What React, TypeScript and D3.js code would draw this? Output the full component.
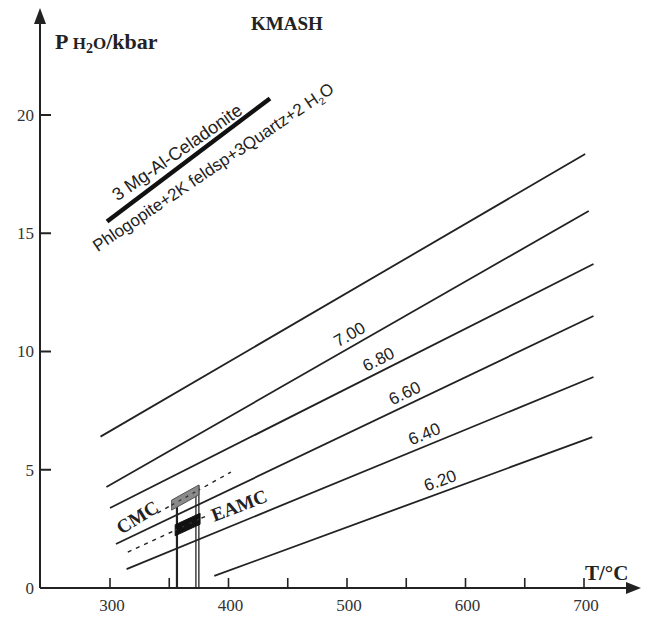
import React from 'react';
import * as d3 from 'd3';

// Si (p.f.u.) isopleths of phengite in KMASH: start/end points in (T °C, P kbar)
// (the uppermost isopleth carries no label)
const isoplethSi = ['', '7.00', '6.80', '6.60', '6.40', '6.20'];
const isoStartT = [292, 297, 300, 305, 314, 388];
const isoStartP = [6.4, 4.27, 3.38, 1.86, 0.8, 0.51];
const isoEndT = [701, 704, 708, 708, 708, 707];
const isoEndP = [18.35, 15.94, 13.7, 11.5, 8.92, 6.38];
// label anchor temperature along each isopleth
const isoLabelT = [0, 507, 531, 553, 569, 582];

// Celadonite breakdown reaction
const reactionT = [297.5, 435];
const reactionP = [15.5, 20.7];
const reactantLabelT = 356.5, reactantLabelP = 18.43;
const productLabelT = 387, productLabelP = 17.8;

// Sample estimates (CMC, EAMC)
const cmcLineT = [340, 402];
const cmcLineP = [3.17, 4.9];
const cmcBarT = [352, 375];
const eamcLineT = [315, 381];
const eamcLineP = [1.52, 3.04];
const eamcBarT = [355, 376];
const markerT = [356.5, 372.5, 375];
const markerTopP = [3.47, 4.27, 4.34];

// Axis ticks
const xTicks = [300, 350, 400, 450, 500, 550, 600, 650, 700];
const xTickLabels = [300, 400, 500, 600, 700];
const yTicks = [5, 10, 15, 20];
const yTickLabels = [0, 5, 10, 15, 20];

const SERIF = "'Liberation Serif', 'Times New Roman', serif";
const SANS = "'Liberation Sans', Arial, sans-serif";
const INK = '#222';

export default function App() {
  const W = 650, H = 617;
  const x = d3.scaleLinear().domain([300, 700]).range([110, 584]);
  const y = d3.scaleLinear().domain([0, 20]).range([588, 115]);
  const line = d3.line<[number, number]>().x(d => x(d[0])).y(d => y(d[1]));

  const x0 = 40, y0 = 588;

  const lerpP = (t: number, T: number[], P: number[]) =>
    P[0] + ((t - T[0]) * (P[1] - P[0])) / (T[1] - T[0]);
  const angleOf = (T: number[], P: number[]) =>
    (Math.atan2(y(P[1]) - y(P[0]), x(T[1]) - x(T[0])) * 180) / Math.PI;
  const seg = (T: number[], lt: number[], lp: number[]) =>
    line([[T[0], lerpP(T[0], lt, lp)], [T[1], lerpP(T[1], lt, lp)]])!;

  const bar = (T: number[], lt: number[], lp: number[], half: number) => {
    const p0 = lerpP(T[0], lt, lp), p1 = lerpP(T[1], lt, lp);
    const pts = [
      [x(T[0]), y(p0) - half],
      [x(T[1]), y(p1) - half],
      [x(T[1]), y(p1) + half],
      [x(T[0]), y(p0) + half],
    ];
    return pts.map(p => p.join(',')).join(' ');
  };

  const rxAngle = angleOf(reactionT, reactionP);
  const cmcAngle = angleOf(cmcLineT, cmcLineP);
  const eamcAngle = angleOf(eamcLineT, eamcLineP);

  return (
    <svg width={W} height={H} style={{ position: 'absolute', left: 0, top: 0, background: '#fff' }}>
      {/* axes */}
      <line x1={x0} y1={y0} x2={x0} y2={22} stroke={INK} strokeWidth={2} />
      <polygon points={`${x0},8 ${x0 - 6},24 ${x0 + 6},24`} fill={INK} />
      <line x1={x0} y1={y0} x2={628} y2={y0} stroke={INK} strokeWidth={2} />
      <polygon points={`641,${y0} 626,${y0 - 6} 626,${y0 + 6}`} fill={INK} />

      {yTicks.map(t => (
        <line key={'yt' + t} x1={x0} x2={x0 + 11} y1={y(t)} y2={y(t)} stroke={INK} strokeWidth={2} />
      ))}
      {yTickLabels.map(t => (
        <text key={'yl' + t} x={x0 - 6} y={y(t)} dy="0.35em" textAnchor="end"
          fontFamily={SERIF} fontSize={17} fill="#333">{t}</text>
      ))}
      {xTicks.map(t => (
        <line key={'xt' + t} x1={x(t)} x2={x(t)} y1={y0} y2={y0 - 10} stroke={INK} strokeWidth={1.6} />
      ))}
      {xTickLabels.map(t => (
        <text key={'xl' + t} x={x(t) + 2} y={611} textAnchor="middle"
          fontFamily={SERIF} fontSize={17} fill="#333">{t}</text>
      ))}

      {/* axis titles */}
      <text x={55} y={49} fontFamily={SERIF} fontWeight="bold" fontSize={22} fill={INK}>
        P <tspan fontSize={17}>H</tspan>
        <tspan fontSize={14} dy={4}>2</tspan>
        <tspan fontSize={17} dy={-4}>O</tspan>/kbar
      </text>
      <text x={251} y={30} fontFamily={SERIF} fontWeight="bold" fontSize={19} fill={INK}>KMASH</text>
      <text x={585} y={580} fontFamily={SERIF} fontWeight="bold" fontSize={21} fill={INK}>T/°C</text>

      {/* isopleths */}
      {isoplethSi.map((s, i) => {
        const T = [isoStartT[i], isoEndT[i]];
        const P = [isoStartP[i], isoEndP[i]];
        const a = angleOf(T, P);
        const lt = isoLabelT[i];
        return (
          <g key={'iso' + i}>
            <path d={line([[T[0], P[0]], [T[1], P[1]]])!} stroke={INK} strokeWidth={1.8} fill="none" />
            {s && (
              <text transform={`translate(${x(lt)},${y(lerpP(lt, T, P))}) rotate(${a})`}
                y={-6} textAnchor="middle" fontFamily={SANS} fontSize={17} fill={INK}>{s}</text>
            )}
          </g>
        );
      })}

      {/* reaction */}
      <path d={line([[reactionT[0], reactionP[0]], [reactionT[1], reactionP[1]]])!}
        stroke="#111" strokeWidth={4.5} fill="none" />
      <text transform={`translate(${x(reactantLabelT)},${y(reactantLabelP)}) rotate(${rxAngle + 2})`}
        dy="0.35em" textAnchor="middle" fontFamily={SANS} fontSize={18} fill={INK}>3 Mg-Al-Celadonite</text>
      <text transform={`translate(${x(productLabelT)},${y(productLabelP)}) rotate(${rxAngle + 3})`}
        dy="0.35em" textAnchor="middle" fontFamily={SANS} fontSize={17} fill={INK}>
        Phlogopite+2K feldsp+3Quartz+2 H<tspan fontSize={10} dy={4}>2</tspan><tspan dy={-4}>O</tspan>
      </text>

      {/* temperature markers */}
      {markerT.map((t, i) => (
        <line key={'m' + i} x1={x(t)} x2={x(t)} y1={y0} y2={y(markerTopP[i])}
          stroke={INK} strokeWidth={i === 0 ? 2.2 : 1.3} />
      ))}

      {/* sample isopleths (dashed) */}
      <path d={seg(cmcLineT, cmcLineT, cmcLineP)}
        stroke={INK} strokeWidth={1.4} strokeDasharray="4,5" fill="none" />
      <path d={seg(eamcLineT, eamcLineT, eamcLineP)}
        stroke={INK} strokeWidth={1.4} strokeDasharray="4,5" fill="none" />

      {/* sample bars with the dashes showing through */}
      <polygon points={bar(cmcBarT, cmcLineT, cmcLineP, 5)} fill="#8a8a8a" stroke="#555" strokeWidth={1} />
      <path d={seg(cmcBarT, cmcLineT, cmcLineP)} stroke="#333" strokeWidth={1.3} strokeDasharray="3,5" fill="none" />
      <polygon points={bar(eamcBarT, eamcLineT, eamcLineP, 5.5)} fill="#111" stroke="#111" strokeWidth={1} />
      <path d={seg(eamcBarT, eamcLineT, eamcLineP)} stroke="#444" strokeWidth={1} strokeDasharray="2,6" fill="none" />

      <text transform={`translate(${x(323)},${y(3.0)}) rotate(${cmcAngle - 3})`} dy="0.35em"
        textAnchor="middle" fontFamily={SERIF} fontWeight="bold" fontSize={19} fill={INK}>CMC</text>
      <text transform={`translate(${x(409)},${y(3.5)}) rotate(${eamcAngle + 4})`} dy="0.35em"
        textAnchor="middle" fontFamily={SERIF} fontWeight="bold" fontSize={19} fill={INK}>EAMC</text>
    </svg>
  );
}
